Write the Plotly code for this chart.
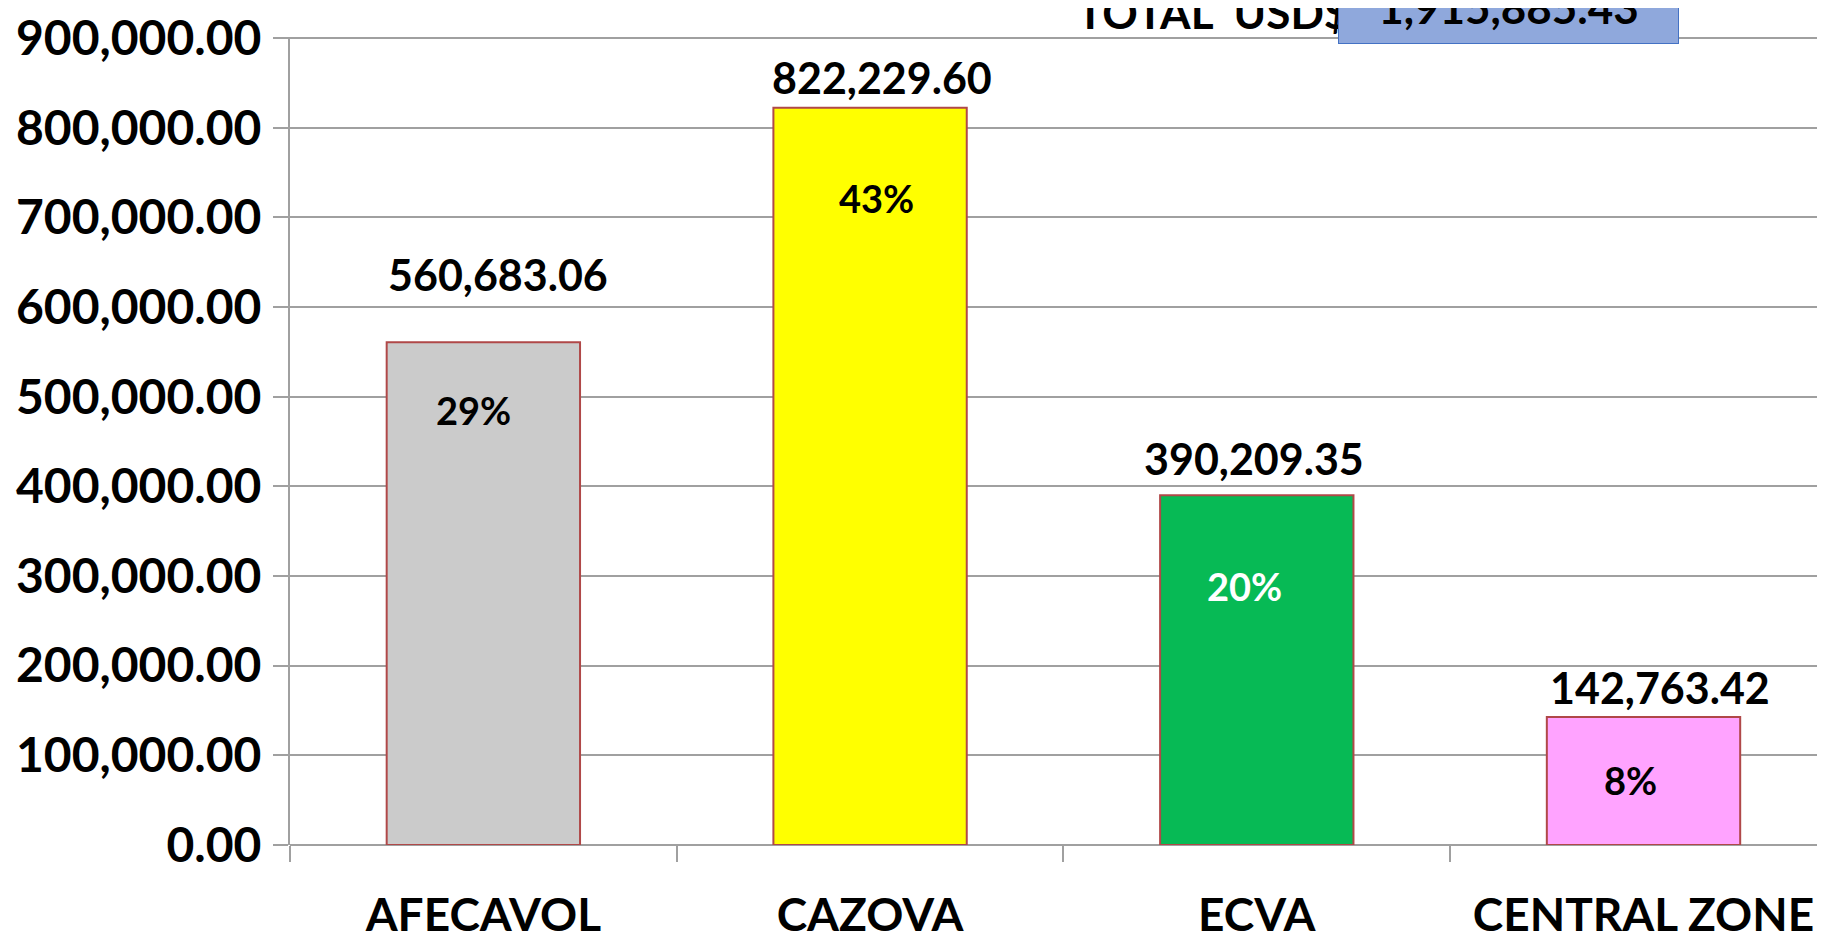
import plotly.graph_objects as go

categories = ["AFECAVOL", "CAZOVA", "ECVA", "CENTRAL ZONE"]
values = [560683.06, 822229.60, 390209.35, 142763.42]
percent_labels = ["29%", "43%", "20%", "8%"]
total_label = "1,915,885.43"
y_ticks = [0, 100000, 200000, 300000, 400000, 500000, 600000, 700000, 800000, 900000]

bar_colors = ["#CBCBCB", "#FFFF00", "#07BA55", "#FFA3FF"]
pct_colors = ["#000000", "#000000", "#FFFFFF", "#000000"]
value_label_shift = [68, 30, 37, 30]     # px above bar top (style)
value_label_xshift = [15, 12, -3, 16]
pct_label_shift = [-68, -90, -91, -63]   # px below bar top (style)
pct_label_xshift = [-10, 6, -12, -13]

FONT = "Lato"
fig = go.Figure()
fig.add_trace(go.Bar(
    x=categories, y=values, width=0.5,
    marker=dict(color=bar_colors, line=dict(color="#B04848", width=2)),
    hoverinfo="skip",
))

for i, (c, v) in enumerate(zip(categories, values)):
    fig.add_annotation(x=c, y=v, text=f"{v:,.2f}", showarrow=False,
                       yshift=value_label_shift[i], xshift=value_label_xshift[i],
                       yanchor="middle",
                       font=dict(family=FONT, size=43, color="#000000", weight="bold"))
    fig.add_annotation(x=c, y=v, text=percent_labels[i], showarrow=False,
                       yshift=pct_label_shift[i], xshift=pct_label_xshift[i],
                       yanchor="middle",
                       font=dict(family=FONT, size=38, color=pct_colors[i], weight="bold"))

fig.add_annotation(xref="paper", yref="paper", x=0.598, xanchor="center",
                   y=1, yanchor="bottom", yshift=-3,
                   text="TOTAL  USD$", showarrow=False,
                   font=dict(family=FONT, size=44, color="#000000", weight="bold"))
fig.add_annotation(xref="paper", yref="paper", x=0.790, xanchor="center",
                   y=1, yanchor="bottom", yshift=-7,
                   text=total_label, showarrow=False, width=319, borderpad=10,
                   bgcolor="#8FA8DC", bordercolor="#4472C4", borderwidth=1,
                   font=dict(family=FONT, size=44, color="#000000", weight="bold"))

fig.update_layout(
    width=1825, height=933,
    margin=dict(l=282, r=0, t=23, b=95),
    paper_bgcolor="white", plot_bgcolor="white",
    showlegend=False,
    font=dict(family=FONT, color="#000000"),
)
fig.update_xaxes(
    type="category", range=[-0.5, 3.49],
    tickson="boundaries", ticks="outside", ticklen=16, tickcolor="#A0A0A0", tickwidth=2,
    showline=False, showgrid=False, ticklabelstandoff=39,
    tickfont=dict(family=FONT, size=46, color="#000000", weight="bold"),
)
fig.update_yaxes(
    range=[0, 901200], tickvals=y_ticks, tickformat=",.2f",
    showgrid=True, gridcolor="#A0A0A0", gridwidth=2,
    showline=True, linecolor="#A0A0A0", linewidth=2,
    ticks="outside", ticklen=15, tickcolor="#A0A0A0", tickwidth=2,
    ticklabelstandoff=2, ticklabeloverflow="allow",
    zeroline=True, zerolinecolor="#A0A0A0", zerolinewidth=2,
    tickfont=dict(family=FONT, size=48, color="#000000", weight="bold"),
)

fig.write_html("out.html")
